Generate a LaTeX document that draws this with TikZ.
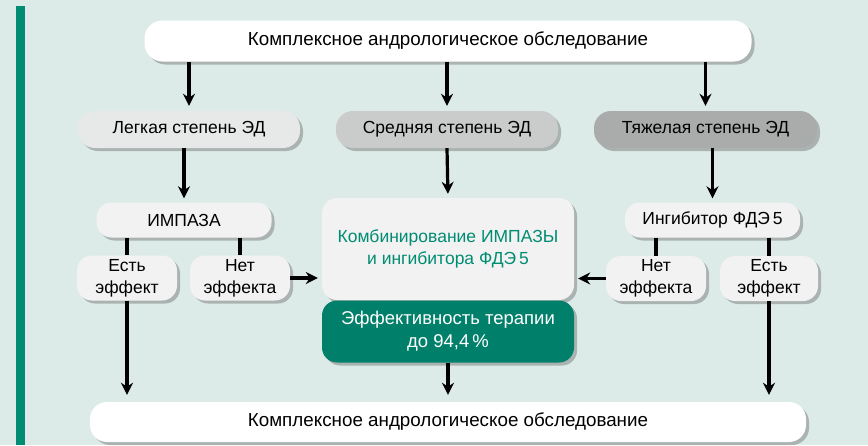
\documentclass[tikz,border=0pt]{standalone}
\usepackage{fontspec}
\setmainfont{Liberation Sans}
\usetikzlibrary{arrows.meta,shadows}
\definecolor{bgteal}{RGB}{221,235,232}
\definecolor{barteal}{RGB}{0,140,114}
\definecolor{effteal}{RGB}{0,128,106}
\definecolor{lightbox}{RGB}{231,233,233}
\definecolor{midbox}{RGB}{202,204,204}
\definecolor{darkbox}{RGB}{170,172,172}
\tikzset{
  box/.style={rounded corners=15pt,minimum height=36pt,inner sep=0pt,align=center,
    drop shadow={shadow xshift=3pt,shadow yshift=-3pt,opacity=.35,fill=black!70}},
  arr/.style={line width=3.2pt,-{Stealth[length=12pt,width=12pt]}},
  link/.style={line width=3.2pt},
  big/.style={font=\fontsize{18.8}{22}\selectfont},
}
\begin{document}
\begin{tikzpicture}[x=1pt,y=-1pt,font=\fontsize{17.5}{22}\selectfont]
  \fill[bgteal] (0,0) rectangle (868,445);
  \useasboundingbox (0,0) rectangle (868,445);
  \fill[barteal] (16,6) rectangle (25,445);% 左侧色条
  % 第一行
  \node[box,big,fill=white,minimum width=607pt,minimum height=41pt,rounded corners=18pt] (top) at (448,41) {Комплексное андрологическое обследование};
  % 分级
  \node[box,fill=lightbox,minimum width=222pt,minimum height=37pt,rounded corners=17pt] (mild) at (189,129.5) {Легкая степень ЭД};
  \node[box,fill=midbox,minimum width=222pt,minimum height=37pt,rounded corners=17pt] (mid) at (447,129.5) {Средняя степень ЭД};
  \node[box,fill=darkbox,minimum width=223pt,minimum height=37pt,rounded corners=17pt] (sev) at (705.5,129.5) {Тяжелая степень ЭД};
  % 治疗
  \node[box,fill=white!95!black,minimum width=175pt,minimum height=35pt] (impaza) at (184,220) {ИМПАЗА};
  \node[box,fill=white!95!black,minimum width=100pt,minimum height=45pt] (yesA) at (127,278) {Есть\\эффект};
  \node[box,fill=white!95!black,minimum width=100pt,minimum height=45pt] (noA) at (240,278) {Нет\\эффекта};
  \node[box,fill=white!95!black,minimum width=175pt,minimum height=35pt] (inh) at (712.5,220) {Ингибитор ФДЭ\,5};
  \node[box,fill=white!95!black,minimum width=100pt,minimum height=45pt] (noB) at (656,278.5) {Нет\\эффекта};
  \node[box,fill=white!95!black,minimum width=98pt,minimum height=45pt] (yesB) at (769,278.5) {Есть\\эффект};
  \node[box,fill=white!95!black,minimum width=252pt,minimum height=102pt,text=barteal] (comb) at (448,249) {\raisebox{-4pt}{\shortstack{Комбинирование ИМПАЗЫ\\[2pt]и ингибитора ФДЭ\,5}}};
  \node[box,fill=effteal,minimum width=252pt,minimum height=62pt,text=white,font=\fontsize{18.5}{23}\selectfont] (eff) at (448,331.5) {Эффективность терапии\\до 94,4\,\%};
  % 底行
  \node[box,big,fill=white,minimum width=716pt,minimum height=40pt,rounded corners=17pt] (bot) at (448,422) {Комплексное андрологическое обследование};
  % 箭头
  \foreach \n in {mild,mid,sev}
    \draw[arr,shorten >=5pt] (top.south -| \n) -- (\n.north);
  \draw[arr,shorten >=4pt] (mild.south -| impaza) -- (impaza.north);
  \draw[arr,shorten >=4pt] (mid.south) -- (comb.north);
  \draw[arr,shorten >=4pt] (sev.south -| inh) -- (inh.north);
  \foreach \n in {yesA,noA}
    \draw[link] (impaza.south -| \n) -- (\n.north);
  \foreach \n in {noB,yesB}
    \draw[link] (inh.south -| \n) -- (\n.north);
  \draw[arr,shorten >=4pt] (noA.east) -- (comb.west |- noA.east);
  \draw[arr,shorten >=4pt] (noB.west) -- (comb.east |- noB.west);
  \foreach \n in {yesA,eff,yesB}
    \draw[arr,shorten >=7pt] (\n.south) -- (bot.north -| \n);
\end{tikzpicture}
\end{document}
